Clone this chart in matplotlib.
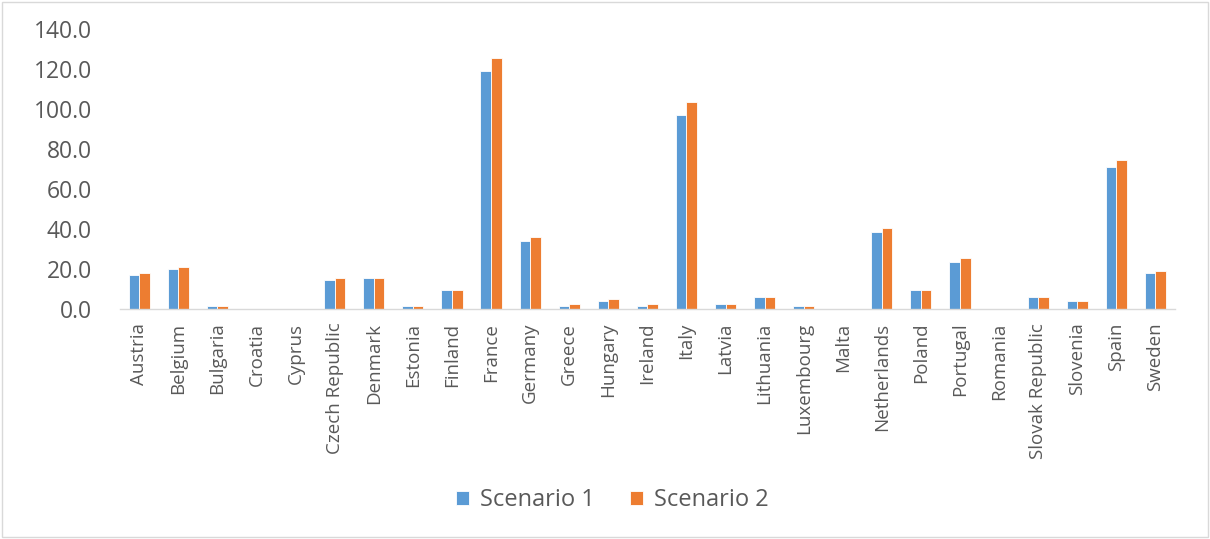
#!/usr/bin/env python3
"""Grouped bars per EU member state for two scenarios."""
import matplotlib

matplotlib.use("Agg")
import matplotlib.pyplot as plt
import numpy as np

COUNTRIES = [
    "Austria", "Belgium", "Bulgaria", "Croatia", "Cyprus", "Czech Republic",
    "Denmark", "Estonia", "Finland", "France", "Germany", "Greece", "Hungary",
    "Ireland", "Italy", "Latvia", "Lithuania", "Luxembourg", "Malta",
    "Netherlands", "Poland", "Portugal", "Romania", "Slovak Republic",
    "Slovenia", "Spain", "Sweden",
]
SCENARIO_1 = [
    17.0, 19.9, 1.2, 0.0, 0.0, 14.2, 15.2, 1.2, 9.6, 118.8, 33.8, 1.2, 4.0,
    1.2, 96.8, 2.3, 6.0, 1.2, 0.0, 38.4, 9.6, 23.5, 0.0, 6.0, 4.0, 70.8, 17.9,
]
SCENARIO_2 = [
    17.9, 20.9, 1.2, 0.0, 0.0, 15.2, 15.2, 1.2, 9.6, 125.3, 35.7, 2.3, 5.0,
    2.3, 103.3, 2.3, 6.0, 1.2, 0.0, 40.2, 9.6, 25.5, 0.0, 6.0, 4.0, 74.5, 18.9,
]
SERIES = ["Scenario 1", "Scenario 2"]
Y_TICKS = [0, 20, 40, 60, 80, 100, 120, 140]

C_BLUE = "#5B9BD5"
C_ORANGE = "#ED7D31"
TEXT = "#595959"

plt.rcParams["font.family"] = ["Open Sans", "DejaVu Sans"]

fig = plt.figure(figsize=(12.1, 5.39), dpi=100)
ax = fig.add_axes([0.099, 0.427, 0.872, 0.52])

x = np.arange(len(COUNTRIES))
w = 0.27
ax.bar(x - w / 2, SCENARIO_1, width=w, color=C_BLUE, edgecolor="white",
       linewidth=0.6, label=SERIES[0])
ax.bar(x + w / 2, SCENARIO_2, width=w, color=C_ORANGE, edgecolor="white",
       linewidth=0.6, label=SERIES[1])

ax.set_xlim(-0.5, len(COUNTRIES) - 0.5)
ax.set_ylim(0, 140)
ax.set_yticks(Y_TICKS)
ax.set_yticklabels([f"{v:.1f}" for v in Y_TICKS], fontsize=16.5, color=TEXT)
ax.set_xticks(x)
ax.set_xticklabels(COUNTRIES, rotation=90, fontsize=13.5, color=TEXT)
ax.tick_params(axis="x", length=0, pad=10)
ax.tick_params(axis="y", length=0, pad=20)

for side in ("top", "right", "left"):
    ax.spines[side].set_visible(False)
ax.spines["bottom"].set_color("#D9D9D9")
ax.spines["bottom"].set_linewidth(1.0)

fig.legend(loc="center", bbox_to_anchor=(0.506, 0.072), ncol=2, frameon=False,
           fontsize=17, handlelength=0.55, handleheight=0.55,
           columnspacing=1.5, handletextpad=0.45, labelcolor=TEXT)

# light frame round the whole chart
fig.patches.append(plt.Rectangle((0.002, 0.004), 0.996, 0.992, transform=fig.transFigure,
                                 fill=False, edgecolor="#D9D9D9", linewidth=1.0))

fig.savefig("out.png", dpi=100)
